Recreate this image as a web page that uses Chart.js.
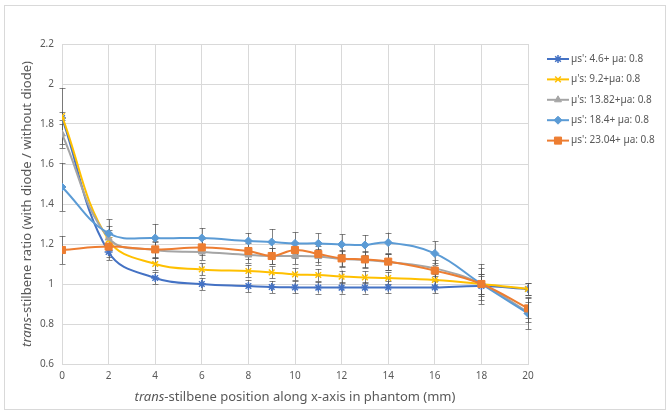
<!DOCTYPE html>
<html>
<head>
<meta charset="utf-8">
<script src="https://cdn.jsdelivr.net/npm/chart.js"></script>
<style>
  body { margin: 0; background: #fff; }
  #wrap { position: relative; width: 671px; height: 416px; }
  #frame { position: absolute; left: 4px; top: 5px; width: 660px; height: 403px; border: 1px solid #d9d9d9; pointer-events: none; }
</style>
</head>
<body>
<div id="wrap">
  <canvas id="ratioChart" width="671" height="416"></canvas>
  <div id="frame"></div>
</div>
<script>
'use strict'
// positions along x (mm)
var xs = [0, 2, 4, 6, 8, 9, 10, 11, 12, 13, 14, 16, 18, 20];

var names = ["µs': 4.6+ µa: 0.8", "µ's: 9.2+µa: 0.8", "µ's: 13.82+µa: 0.8", "µs': 18.4+ µa: 0.8", "µs': 23.04+ µa: 0.8"];

var mus46   = [1.83, 1.16, 1.03, 1.00, 0.99, 0.985, 0.983, 0.982, 0.982, 0.982, 0.983, 0.983, 0.99, 0.975];
var mus92   = [1.84, 1.22, 1.10, 1.073, 1.065, 1.058, 1.048, 1.045, 1.037, 1.033, 1.03, 1.02, 1.00, 0.975];
var mus1382 = [1.75, 1.23, 1.17, 1.16, 1.145, 1.14, 1.14, 1.137, 1.125, 1.12, 1.11, 1.078, 1.00, 0.86];
var mus184  = [1.485, 1.253, 1.23, 1.23, 1.215, 1.21, 1.203, 1.203, 1.198, 1.195, 1.207, 1.153, 1.00, 0.853];
var mus2304 = [1.17, 1.187, 1.173, 1.183, 1.165, 1.14, 1.17, 1.15, 1.128, 1.123, 1.112, 1.067, 1.00, 0.878];

// +/- error per point
var err46   = [0.15, 0.04, 0.03, 0.03, 0.03, 0.03, 0.03, 0.03, 0.03, 0.03, 0.03, 0.03, 0.05, 0.03];
var err92   = [0.02, 0.05, 0.03, 0.03, 0.03, 0.03, 0.03, 0.03, 0.03, 0.03, 0.03, 0.03, 0.05, 0.03];
var err1382 = [0.05, 0.06, 0.04, 0.04, 0.04, 0.04, 0.04, 0.04, 0.04, 0.04, 0.04, 0.04, 0.08, 0.05];
var err184  = [0.12, 0.07, 0.07, 0.05, 0.04, 0.065, 0.055, 0.05, 0.05, 0.05, 0.05, 0.06, 0.1, 0.08];
var err2304 = [0.07, 0.05, 0.04, 0.04, 0.04, 0.04, 0.04, 0.04, 0.04, 0.04, 0.04, 0.04, 0.05, 0.05];

var yTicks = [0.6, 0.8, 1, 1.2, 1.4, 1.6, 1.8, 2, 2.2];

var colors = ['#4472C4', '#FFC000', '#A5A5A5', '#5B9BD5', '#ED7D31'];
var styles = ['star', 'crossRot', 'triangle', 'rectRot', 'rect'];
var radii  = [4, 4, 4, 4, 5];
var values = [mus46, mus92, mus1382, mus184, mus2304];
var errors = [err46, err92, err1382, err184, err2304];

function pts(v) {
  return v.map(function (y, i) { return { x: xs[i], y: y }; });
}

var datasets = values.map(function (v, i) {
  return {
    label: names[i],
    data: pts(v),
    errors: errors[i],
    borderColor: colors[i],
    backgroundColor: colors[i],
    borderWidth: 2,
    pointStyle: styles[i],
    pointRadius: radii[i],
    pointBorderWidth: (styles[i] === 'star' || styles[i] === 'crossRot') ? 1.5 : 1,
    tension: 0.4,
    order: 5 - i
  };
});

var FONT = '"Noto Sans", "Liberation Sans", sans-serif';
var TXT = '#595959';

// gray error bars with caps
var errorBars = {
  id: 'errorBars',
  beforeDatasetsDraw: function (chart) {
    var ctx = chart.ctx, xS = chart.scales.x, yS = chart.scales.y;
    ctx.save();
    ctx.strokeStyle = 'rgba(80,80,80,0.7)';
    ctx.lineWidth = 1;
    chart.data.datasets.forEach(function (ds) {
      ds.data.forEach(function (p, i) {
        var e = ds.errors[i];
        var px = Math.round(xS.getPixelForValue(p.x)) + 0.5;
        var top = yS.getPixelForValue(p.y + e), bot = yS.getPixelForValue(p.y - e);
        ctx.beginPath();
        ctx.moveTo(px, top); ctx.lineTo(px, bot);
        ctx.moveTo(px - 3, Math.round(top) + 0.5); ctx.lineTo(px + 3, Math.round(top) + 0.5);
        ctx.moveTo(px - 3, Math.round(bot) + 0.5); ctx.lineTo(px + 3, Math.round(bot) + 0.5);
        ctx.stroke();
      });
    });
    ctx.restore();
  }
};

// axis titles (with italic "trans") and legend
var extras = {
  id: 'extras',
  afterDraw: function (chart) {
    var ctx = chart.ctx, a = chart.chartArea;
    ctx.save();
    ctx.fillStyle = TXT;
    ctx.textBaseline = 'middle';
    function mixed(x, y, rest) {
      ctx.font = 'italic 13px ' + FONT;
      var w1 = ctx.measureText('trans').width;
      ctx.font = '13px ' + FONT;
      var w2 = ctx.measureText(rest).width;
      var sx = x - (w1 + w2) / 2;
      ctx.textAlign = 'left';
      ctx.font = 'italic 13px ' + FONT;
      ctx.fillText('trans', sx, y);
      ctx.font = '13px ' + FONT;
      ctx.fillText(rest, sx + w1, y);
    }
    mixed((a.left + a.right) / 2, 397, '-stilbene position along x-axis in phantom (mm)');
    ctx.translate(27, (a.top + a.bottom) / 2);
    ctx.rotate(-Math.PI / 2);
    mixed(0, 0, '-stilbene ratio (with diode / without diode)');
    ctx.restore();

    // legend
    ctx.save();
    var lx = 547, ly = 59;
    chart.data.datasets.forEach(function (ds, i) {
      var y = ly + i * 20.4;
      ctx.strokeStyle = ds.borderColor;
      ctx.fillStyle = ds.backgroundColor;
      ctx.lineWidth = 2;
      ctx.beginPath();
      ctx.moveTo(lx, y); ctx.lineTo(lx + 22, y);
      ctx.stroke();
      ctx.lineWidth = ds.pointBorderWidth;
      Chart.helpers.drawPoint(ctx, { pointStyle: ds.pointStyle, radius: ds.pointRadius, rotation: 0, borderWidth: ds.pointBorderWidth }, lx + 11, y);
      ctx.fillStyle = TXT;
      ctx.font = '10px ' + FONT;
      ctx.textAlign = 'left';
      ctx.textBaseline = 'middle';
      ctx.fillText(ds.label, lx + 24, y);
    });
    ctx.restore();
  }
};

new Chart(document.getElementById('ratioChart'), {
  type: 'line',
  data: { datasets: datasets },
  options: {
    responsive: false,
    animation: false,
    layout: { padding: { left: 0, top: 44, right: 143, bottom: 0 } },
    plugins: { legend: { display: false }, tooltip: { enabled: false } },
    scales: {
      x: {
        type: 'linear', min: 0, max: 20,
        ticks: { stepSize: 2, color: TXT, font: { size: 10, family: FONT }, padding: 6 },
        grid: { color: '#d9d9d9', drawTicks: false },
        border: { color: '#d9d9d9' },
        afterFit: function (s) { s.height = 52; }
      },
      y: {
        min: 0.6, max: 2.2,
        afterBuildTicks: function (s) { s.ticks = yTicks.map(function (v) { return { value: v }; }); },
        ticks: {
          color: TXT, font: { size: 10, family: FONT }, padding: 8,
          callback: function (v) { return String(+v.toFixed(1)); }
        },
        grid: { color: '#d9d9d9', drawTicks: false },
        border: { display: false },
        afterFit: function (s) { s.width = 62; }
      }
    }
  },
  plugins: [errorBars, extras]
});
</script>
</body>
</html>
